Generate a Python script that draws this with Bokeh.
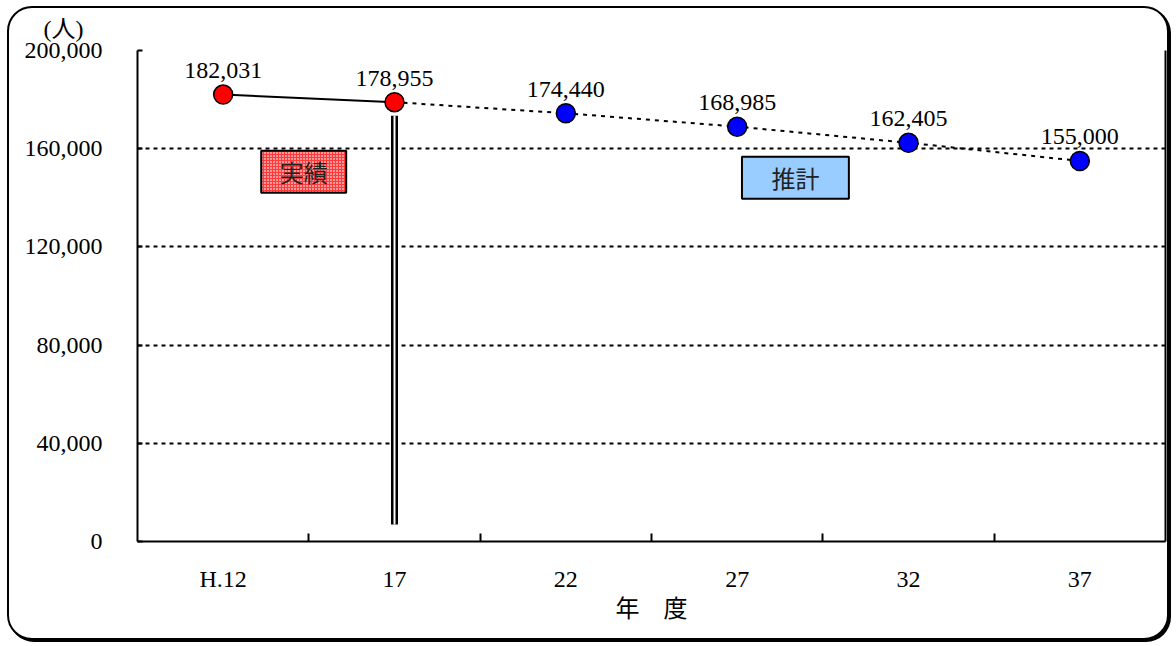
import numpy as np
from bokeh.plotting import figure
from bokeh.models import FixedTicker, LinearAxis, Range1d
from bokeh.core.properties import value
from bokeh.embed import file_html
from bokeh.resources import INLINE

# ---------------- data ----------------
years = ["H.12", "17", "22", "27", "32", "37"]
actual_years = ["H.12", "17"]
actual_values = [182031, 178955]
forecast_years = ["22", "27", "32", "37"]
forecast_values = [174440, 168985, 162405, 155000]
y_ticks = [0, 40000, 80000, 120000, 160000, 200000]
y_tick_labels = ["0", "40,000", "80,000", "120,000", "160,000", "200,000"]
unit_label = "(人)"
x_title = "年　度"
box_texts = ["実績", "推計"]

# ---------------- layout / style ----------------
W, H = 1162, 634
FONT = "Liberation Serif, Noto Sans CJK JP"
CJK = "Noto Sans CJK JP"
FS = "24px"

pos = {c: i + 0.5 for i, c in enumerate(years)}
ax = [pos[c] for c in actual_years]
fx = [pos[c] for c in forecast_years]

p = figure(width=W, height=H, output_backend="svg", toolbar_location=None,
           x_range=Range1d(0, len(years)), y_range=Range1d(y_ticks[0], y_ticks[-1]),
           min_border_left=128, min_border_right=6, min_border_top=42, min_border_bottom=101)
p.border_fill_color = None
p.background_fill_color = None
p.outline_line_color = None
# outer rounded frame with a small drop shadow
p.styles = {"margin-left": "7px", "margin-top": "6px",
            "border": "2.5px solid black", "border-radius": "25px",
            "box-shadow": "2px 2px 0px 0px black", "background-color": "white"}

# unit label above the y axis (title)
p.title.text = unit_label
p.title.text_font = FONT
p.title.text_font_size = FS
p.title.text_font_style = "normal"
p.title.text_color = "black"
p.title.align = "left"
p.title.vertical_align = "top"
p.title.offset = -94
p.title.standoff = 14

# y axis
yax = p.yaxis[0]
yax.ticker = FixedTicker(ticks=y_ticks)
yax.major_label_overrides = {t: l for t, l in zip(y_ticks, y_tick_labels)}
yax.major_label_text_font = FONT
yax.major_label_text_font_size = FS
yax.major_label_text_color = "black"
yax.major_tick_in = 5
yax.major_tick_out = 0
yax.minor_tick_line_color = None
yax.major_tick_line_width = 2
yax.axis_line_width = 2
yax.major_label_standoff = 35

# x axis
xax = p.xaxis[0]
xax.ticker = FixedTicker(ticks=[pos[c] for c in years], minor_ticks=list(range(1, len(years))))
xax.major_label_overrides = {pos[c]: c for c in years}
xax.major_label_text_font = FONT
xax.major_label_text_font_size = FS
xax.major_label_text_color = "black"
xax.major_tick_in = 0
xax.major_tick_out = 0
xax.minor_tick_in = 8
xax.minor_tick_out = 0
xax.minor_tick_line_width = 2
xax.minor_tick_line_color = "black"
xax.axis_line_width = 2
xax.major_label_standoff = 24
xax.axis_label = x_title
xax.axis_label_text_font = CJK
xax.axis_label_text_font_size = FS
xax.axis_label_text_font_style = "normal"
xax.axis_label_text_color = "black"
xax.axis_label_standoff = -6

# right frame line
rax = LinearAxis(ticker=FixedTicker(ticks=[]), major_label_text_font_size="0px",
                 major_tick_in=0, major_tick_out=0, minor_tick_in=0, minor_tick_out=0,
                 axis_line_width=2, axis_line_color="black")
p.add_layout(rax, "right")

# grid
p.xgrid.grid_line_color = None
p.ygrid.ticker = FixedTicker(ticks=y_ticks)
p.ygrid.grid_line_color = "black"
p.ygrid.grid_line_width = 2
p.ygrid.grid_line_dash = "4 4"

# label boxes (実績 / 推計)
box_x = [0.97, 3.84]
box_y = [150600, 148160]
box_w = [0.496, 0.624]
box_h = [17100, 17140]
p.rect(x=[box_x[0]], y=[box_y[0]], width=[box_w[0]], height=[box_h[0]],
       fill_color="#FF9898", line_color="black", line_width=2,
       hatch_pattern="cross", hatch_color="#FF3A3A", hatch_scale=3, hatch_weight=1)
p.rect(x=[box_x[1]], y=[box_y[1]], width=[box_w[1]], height=[box_h[1]],
       fill_color="#99CCFF", line_color="black", line_width=2)
p.text(x=box_x, y=box_y, text=box_texts, text_align="center", text_baseline="middle",
       text_font=value(CJK), text_font_size=FS, text_color="#222222")

# divider (double line) at the last actual year
div_x = pos[actual_years[-1]]
div_bottom = 6900
div_top = actual_values[-1] - 5500
p.segment(x0=[div_x], y0=[div_bottom], x1=[div_x], y1=[div_top], line_color="black", line_width=7)
p.segment(x0=[div_x], y0=[div_bottom], x1=[div_x], y1=[div_top], line_color="white", line_width=2)

# lines
p.line(ax, actual_values, line_color="black", line_width=2)
p.line([ax[-1]] + fx, [actual_values[-1]] + forecast_values, line_color="black",
       line_width=2, line_dash="4 5")

# points
p.scatter(ax, actual_values, size=19, fill_color="#FF0000", line_color="black", line_width=1.5)
p.scatter(fx, forecast_values, size=19, fill_color="#0000FF", line_color="black", line_width=1.5)

# value labels
all_x = ax + fx
all_v = actual_values + forecast_values
p.text(x=all_x, y=all_v, text=[f"{v:,}" for v in all_v], text_align="center",
       text_baseline="middle", y_offset=-24, text_font=value(FONT), text_font_size=FS,
       text_color="black")

open("out.html", "w").write(file_html(p, INLINE))
